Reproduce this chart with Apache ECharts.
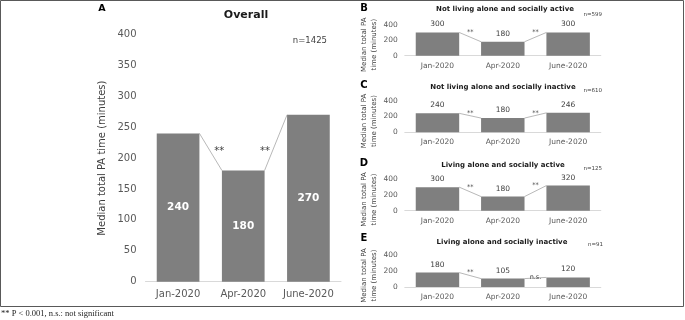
<!DOCTYPE html>
<html>
<head>
<meta charset="utf-8">
<script src="https://cdn.jsdelivr.net/npm/echarts@6/dist/echarts.min.js"></script>
<style>
html,body{margin:0;padding:0;background:#fff;}
#chart{width:685px;height:320px;}
</style>
</head>
<body>
<div id="chart"></div>
<script>
// ---------------- data ----------------
const categories = ['Jan-2020', 'Apr-2020', 'June-2020'];
const overallValues = [240, 180, 270];
const notAloneActiveValues = [300, 180, 300];
const notAloneInactiveValues = [240, 180, 246];
const aloneActiveValues = [300, 180, 320];
const aloneInactiveValues = [180, 105, 120];
const overallTicks = [0, 50, 100, 150, 200, 250, 300, 350, 400];
const subTicks = [0, 200, 400];
const panelLetters = ['A', 'B', 'C', 'D', 'E'];
const panelTitles = ['Overall', 'Not living alone and socially active', 'Not living alone and socially inactive',
  'Living alone and socially active', 'Living alone and socially inactive'];
const sampleSizes = ['n=1425', 'n=599', 'n=610', 'n=125', 'n=91'];
const sigOverall = ['**', '**'];
const sigNotAloneActive = ['**', '**'];
const sigNotAloneInactive = ['**', '**'];
const sigAloneActive = ['**', '**'];
const sigAloneInactive = ['**', 'n.s.'];
const yAxisTitle = 'Median total PA time (minutes)';
const yAxisTitleTwoLine = 'Median total PA\ntime (minutes)';
const footnote = '** P < 0.001, n.s.: not significant';

// ---------------- layout / style ----------------
const FONT = 'DejaVu Sans';
const BAR = '#7f7f7f';
const TXT = '#595959';
const panels = [
  {values: overallValues, sig: sigOverall, ticks: overallTicks,
   grid: {left: 145.5, top: 34.5, width: 195.5, height: 247.2},
   letter: [102, 8.5], title: [246, 15], n: [327, 41], big: true},
  {values: notAloneActiveValues, sig: sigNotAloneActive, ticks: subTicks,
   grid: {left: 404.8, top: 24.7, width: 196, height: 31},
   letter: [364, 8], title: [505, 9.5], n: [602, 15]},
  {values: notAloneInactiveValues, sig: sigNotAloneInactive, ticks: subTicks,
   grid: {left: 404.8, top: 100.7, width: 196, height: 31.6},
   letter: [364, 85.5], title: [503, 87.3], n: [602, 91]},
  {values: aloneActiveValues, sig: sigAloneActive, ticks: subTicks,
   grid: {left: 404.8, top: 179.3, width: 196, height: 31.4},
   letter: [364, 163.3], title: [503, 165], n: [602, 169]},
  {values: aloneInactiveValues, sig: sigAloneInactive, ticks: subTicks,
   grid: {left: 404.8, top: 255, width: 196, height: 32},
   letter: [364, 238.8], title: [502, 241.7], n: [603, 245]}
];

const grids = [], xAxes = [], yAxes = [], series = [], graphics = [];

panels.forEach((p, k) => {
  const big = !!p.big;
  const barRatio = big ? 0.655 : 0.665;
  grids.push(Object.assign({containLabel: false}, p.grid));
  xAxes.push({
    type: 'category', gridIndex: k, data: categories,
    axisLine: {lineStyle: {color: '#d9d9d9', width: 1}},
    axisTick: {show: false},
    axisLabel: {interval: 0, color: TXT, fontFamily: FONT, fontSize: big ? 10 : 7.5, margin: big ? 8 : 6}
  });
  const ticks = p.ticks;
  yAxes.push({
    type: 'value', gridIndex: k, min: ticks[0], max: ticks[ticks.length - 1],
    interval: ticks[1] - ticks[0],
    splitLine: {show: false}, axisLine: {show: false}, axisTick: {show: false},
    axisLabel: {color: TXT, fontFamily: FONT, fontSize: big ? 10 : 7.5, margin: big ? 9 : 7},
    name: big ? yAxisTitle : yAxisTitleTwoLine,
    nameLocation: 'middle',
    nameGap: big ? 38 : 23,
    nameTextStyle: big
      ? {color: '#404040', fontFamily: FONT, fontSize: 10}
      : {color: '#404040', fontFamily: FONT, fontSize: 7, lineHeight: 10.5, padding: [0, 9, 0, 0]}
  });
  series.push({
    type: 'bar', xAxisIndex: k, yAxisIndex: k, data: p.values,
    barWidth: (barRatio * 100) + '%',
    itemStyle: {color: BAR},
    label: big
      ? {show: true, position: 'inside', color: '#fff', fontFamily: FONT, fontWeight: 'bold', fontSize: 10.5}
      : {show: true, position: 'top', distance: 4, color: '#404040', fontFamily: FONT, fontSize: 7.5},
    silent: true, animation: false
  });
  const conn = [];
  for (let i = 0; i < p.values.length - 1; i++) conn.push([i, p.values[i], p.values[i + 1]]);
  const sig = p.sig;
  series.push({
    type: 'custom', xAxisIndex: k, yAxisIndex: k, data: conn, silent: true, animation: false,
    renderItem: function (params, api) {
      const i = api.value(0);
      const a = api.coord([i, api.value(1)]);
      const b = api.coord([i + 1, api.value(2)]);
      const hw = api.size([1, 0])[0] * barRatio / 2;
      const x0 = a[0] + hw, y0 = a[1], x1 = b[0] - hw, y1 = b[1];
      let tx, ty;
      if (big) {
        const frac = i === 0 ? 0.88 : 0.02;
        tx = x0 + (x1 - x0) * frac;
        ty = Math.max(y0, y1) - 19;
      } else {
        tx = (x0 + x1) / 2;
        ty = Math.min(y0, y1);
      }
      return {
        type: 'group',
        children: [
          {type: 'line', shape: {x1: x0, y1: y0, x2: x1, y2: y1},
           style: {stroke: '#a6a6a6', lineWidth: 0.8}},
          {type: 'text', x: tx, y: ty,
           style: {text: sig[params.dataIndex], fill: '#404040', fontFamily: FONT,
                   fontSize: big ? 10 : 6.5, align: 'center', verticalAlign: 'middle'}}
        ]
      };
    }
  });
  graphics.push({type: 'text', x: p.letter[0], y: p.letter[1], silent: true,
    style: {text: panelLetters[k], fill: '#000', fontFamily: FONT, fontWeight: 'bold',
            fontSize: big ? 9.5 : 10, align: 'center', verticalAlign: 'middle'}});
  graphics.push({type: 'text', x: p.title[0], y: p.title[1], silent: true,
    style: {text: panelTitles[k], fill: '#1a1a1a', fontFamily: FONT, fontWeight: 'bold',
            fontSize: big ? 11 : 7, align: 'center', verticalAlign: 'middle'}});
  graphics.push({type: 'text', x: p.n[0], y: p.n[1], silent: true,
    style: {text: sampleSizes[k], fill: '#404040', fontFamily: FONT,
            fontSize: big ? 8.5 : 5.5, align: 'right', verticalAlign: 'middle'}});
});

graphics.push({type: 'rect', silent: true, shape: {x: 0.5, y: 0.5, width: 683, height: 306},
  style: {fill: 'none', stroke: '#595959', lineWidth: 1}});
graphics.push({type: 'text', x: 1, y: 314, silent: true,
  style: {text: footnote, fill: '#222', fontFamily: 'Liberation Serif', fontSize: 8.5,
          align: 'left', verticalAlign: 'middle'}});

const chart = echarts.init(document.getElementById('chart'), null, {renderer: 'canvas'});
chart.setOption({
  animation: false,
  backgroundColor: '#fff',
  grid: grids, xAxis: xAxes, yAxis: yAxes, series: series,
  graphic: {elements: graphics}
});
</script>
</body>
</html>
